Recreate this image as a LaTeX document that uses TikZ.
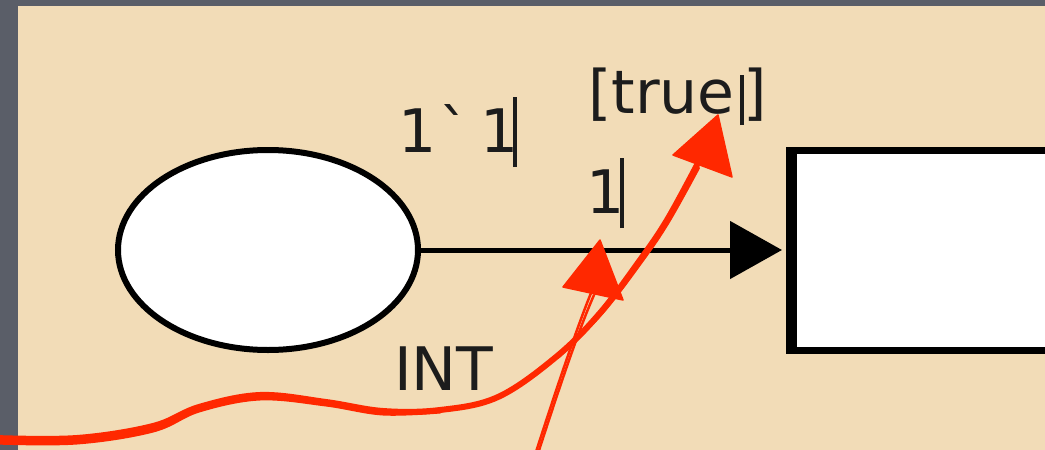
\documentclass[tikz,border=0pt]{standalone}
\usepackage{fontspec}
\newfontfamily\cpn[Ligatures=TeXOff]{DejaVu Sans}
\usetikzlibrary{shapes.geometric,arrows.meta}
\definecolor{bgdark}{HTML}{5A5E68}
\definecolor{panel}{HTML}{F2DCB7}
\definecolor{sketch}{HTML}{FF2800}
\definecolor{ink}{HTML}{1C1C1C}
\begin{document}
\begin{tikzpicture}[x=1pt,y=-1pt,
  lbl/.style={font=\cpn\fontsize{60}{60}\selectfont, text=ink, inner sep=0pt, anchor=base west},
  place/.style={ellipse, draw=black, line width=6pt, fill=white, minimum width=300pt, minimum height=200pt, inner sep=0pt},
  trans/.style={rectangle, draw=black, line width=7pt, fill=white, minimum width=311pt, minimum height=200pt, inner sep=0pt},
  arc/.style={line width=5pt, -{Triangle[length=52pt,width=57pt]}, shorten >=4pt},
  redstroke/.style={draw=sketch, line cap=round, line join=round},
  redhead/.style={fill=sketch, draw=sketch, line width=1.5pt, line join=round}]
\useasboundingbox (0,0) rectangle (1045,450);
\clip (0,0) rectangle (1045,450);
\fill[bgdark] (0,0) rectangle (1045,450);
\fill[panel] (18,6) rectangle (1060,460);
% place and transition
\node[place] (p) at (268,250) {};
\node[trans] (t) at (945,250) {};
\fill[black] (t.north west) rectangle ([xshift=11pt]t.south west);
\draw[arc] (p.east) -- (t.west);
% inscriptions
\node[lbl] (l1) at (398.5,152) {1\hspace{3pt}`\hspace{11pt}1\hspace{-6pt}\rule[-15pt]{4pt}{70pt}};
\node[lbl] (l2) at (588,113) {[true\hspace{5pt}\rule[-12pt]{4pt}{50pt}]};
\node[lbl] (l3) at (586.5,213) {1\hspace{-5pt}\rule[-15pt]{4pt}{70pt}};
\node[lbl] (l4) at (394,390) {INT};
% red sketch arrow 1
\draw[redstroke, line width=6pt] plot[smooth, tension=0.6] coordinates {(-5,438) (77,438) (153,426) (199,407) (260,395) (326,402) (383,411) (440,410) (498,397) (556,357) (600,313) (640,260) (667,220) (697,165)};
\draw[redstroke, line width=5pt] plot[smooth, tension=0.6] coordinates {(-5,442) (77,442) (153,430) (199,410) (260,398) (326,404) (383,413) (440,411)};
\draw[redstroke, line width=2pt] plot[smooth, tension=0.6] coordinates {(558,358) (602,314) (642,262) (669,222) (699,168)};
\fill[redhead] (718,115) -- (673,155) -- (732,177) -- cycle;
% red sketch arrow 2
\draw[redstroke, line width=2.5pt] (535,455) .. controls (556,390) and (576,330) .. (591,293);
\draw[redstroke, line width=2.5pt] (537.5,455) .. controls (558.5,390) and (578.5,330) .. (594,295);
\fill[redhead] (600,240) -- (563,287) -- (623,300) -- cycle;
\end{tikzpicture}
\end{document}
